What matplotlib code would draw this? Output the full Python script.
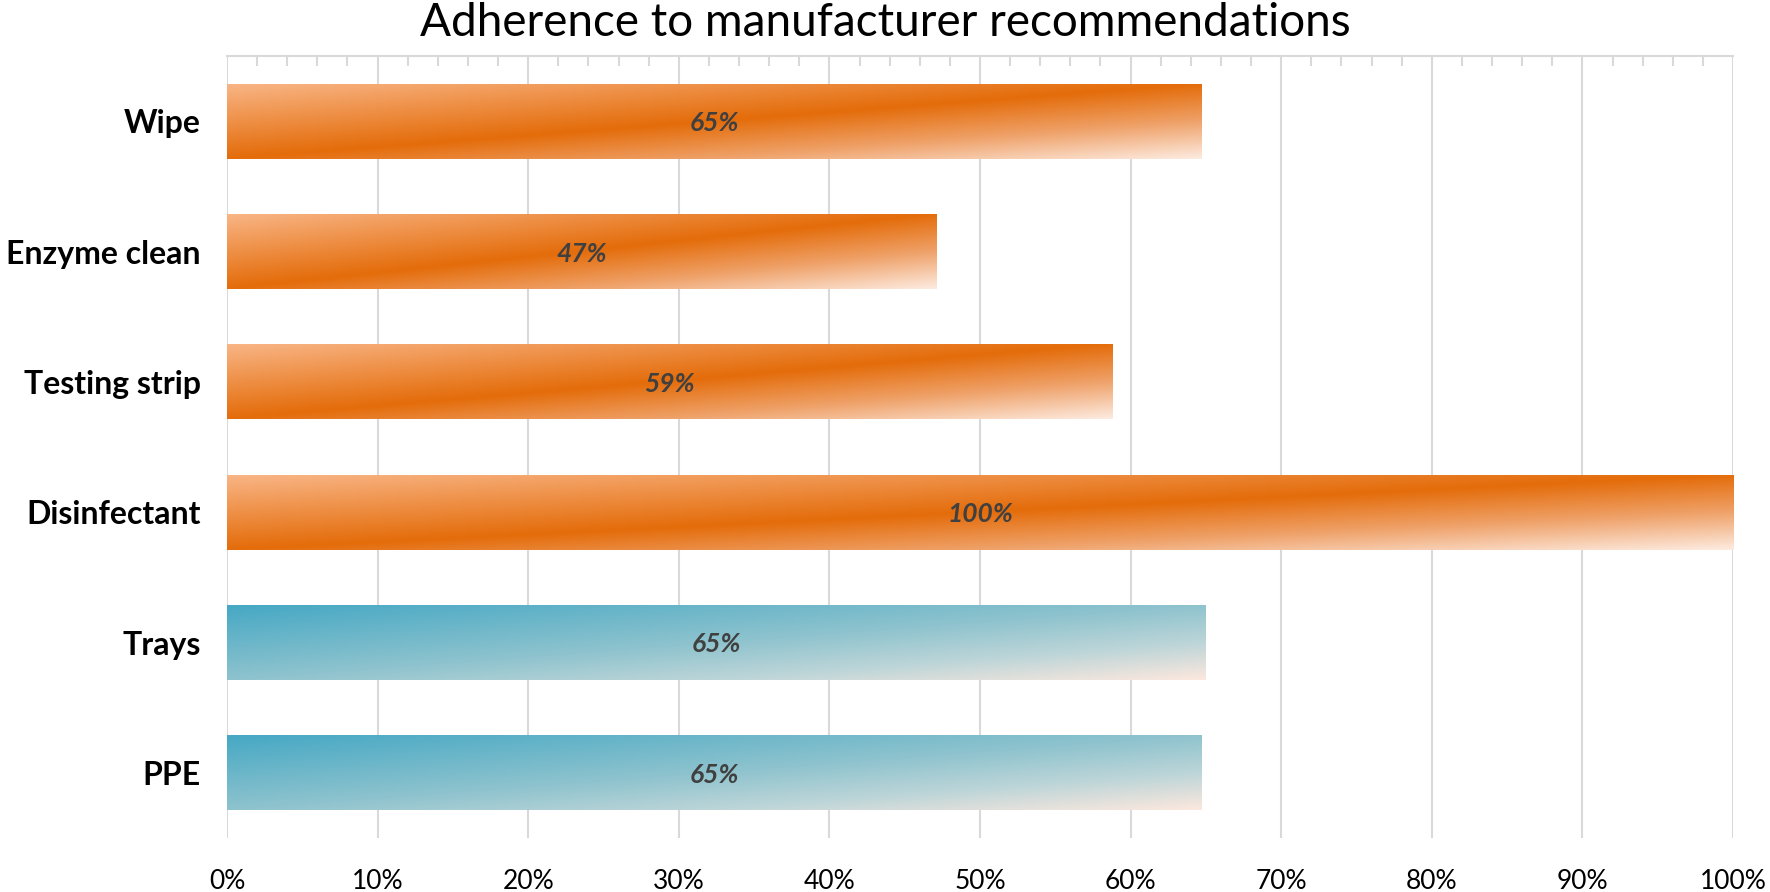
import numpy as np
import matplotlib
matplotlib.use("Agg")
import matplotlib.pyplot as plt
from matplotlib.colors import to_rgb

# ---- data ----
categories = ["Wipe", "Enzyme clean", "Testing strip", "Disinfectant", "Trays", "PPE"]
values = [64.7, 47.1, 58.8, 100.0, 65.0, 64.7]
value_labels = ["65%", "47%", "59%", "100%", "65%", "65%"]
groups = ["orange", "orange", "orange", "orange", "blue", "blue"]
xticks = [0, 10, 20, 30, 40, 50, 60, 70, 80, 90, 100]
xtick_labels = ["0%", "10%", "20%", "30%", "40%", "50%", "60%", "70%", "80%", "90%", "100%"]
title = "Adherence to manufacturer recommendations"

# ---- style ----
gradients = {
    "orange": [(0.0, "#F9B687"), (0.5, "#E46C0A"), (0.75, "#EFA26A"), (1.0, "#FDEBE0")],
    "blue": [(0.0, "#45A8C4"), (0.5, "#8EC3CE"), (0.75, "#BCD5D8"), (1.0, "#FCE8DE")],
}

def gradient_image(stops, nx=400, ny=80):
    u = np.linspace(0, 1, nx)
    v = np.linspace(0, 1, ny)
    U, V = np.meshgrid(u, v)
    t = (U + V) / 2
    pos = [s[0] for s in stops]
    cols = np.array([to_rgb(s[1]) for s in stops])
    img = np.zeros((ny, nx, 3))
    for c in range(3):
        img[..., c] = np.interp(t, pos, cols[:, c])
    return img

plt.rcParams["font.family"] = ["Lato", "DejaVu Sans"]

fig = plt.figure(figsize=(17.7, 8.92), dpi=100)
ax = fig.add_axes([227 / 1770, 1 - 838 / 892, (1733 - 227) / 1770, (838 - 56) / 892])

n = len(categories)
ypos = np.arange(n)[::-1]
height = 0.577
bars = ax.barh(ypos, values, height=height, facecolor="none", edgecolor="none", zorder=3)

for bar, g in zip(bars, groups):
    x0, y0 = bar.get_x(), bar.get_y()
    w, h = bar.get_width(), bar.get_height()
    im = ax.imshow(gradient_image(gradients[g]), extent=(x0, x0 + w, y0, y0 + h),
                   origin="upper", aspect="auto", zorder=3, interpolation="bilinear")
    im.set_clip_path(bar)

for yv, v, lab in zip(ypos, values, value_labels):
    ax.text(v / 2, yv, lab, ha="center", va="center_baseline", fontsize=19,
            fontstyle="italic", fontweight="bold", color="#404040", zorder=5)

ax.set_xlim(0, 100)
ax.set_ylim(-0.5, n - 0.5)
ax.set_yticks(ypos)
ax.set_yticklabels(categories, fontsize=23, fontweight="bold", color="black")
ax.set_xticks(xticks)
ax.set_xticklabels(xtick_labels, fontsize=19, color="black")
ax.tick_params(axis="y", length=0, pad=19)
ax.tick_params(axis="x", which="major", length=0, pad=22)
ax.grid(axis="x", color="#D9D9D9", linewidth=1.5, zorder=0)
ax.set_axisbelow(True)

for s in ["left", "right", "bottom"]:
    ax.spines[s].set_visible(False)
ax.spines["top"].set_color("#D9D9D9")
ax.spines["top"].set_linewidth(1.5)

# minor ticks at top
ax.set_xticks(np.arange(0, 101, 2), minor=True)
ax.tick_params(axis="x", which="minor", bottom=False, top=True, direction="in",
               length=7, width=1.5, color="#D9D9D9")

fig.text(0.5, 1 - 23 / 892, title, ha="center", va="center", fontsize=33,
         fontweight="normal", color="black")

fig.savefig("out.png", dpi=100)
